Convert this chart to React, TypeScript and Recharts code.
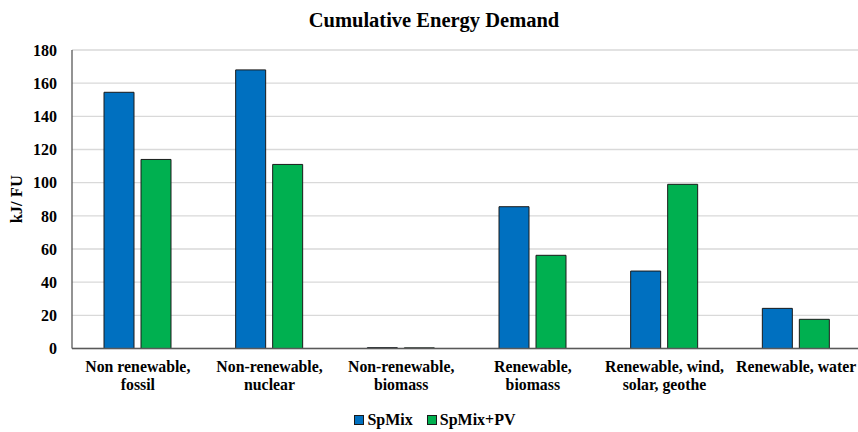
import React from 'react';
import { BarChart, Bar, XAxis, YAxis, CartesianGrid, Label } from 'recharts';

const categories = [
  'Non renewable,\nfossil',
  'Non-renewable,\nnuclear',
  'Non-renewable,\nbiomass',
  'Renewable,\nbiomass',
  'Renewable, wind,\nsolar, geothe',
  'Renewable, water',
];
const spMix = [154.5, 168, 0.5, 85.5, 46.7, 24.2];
const spMixPV = [114, 111, 0.4, 56.2, 99, 17.6];
const seriesNames = ['SpMix', 'SpMix+PV'];
const seriesColors = ['#0070C0', '#00B050'];
const yTicks = [0, 20, 40, 60, 80, 100, 120, 140, 160, 180];

const data = categories.map((c, i) => ({ name: c, a: spMix[i], b: spMixPV[i] }));

const FONT = '"Liberation Serif", "Times New Roman", serif';

const CategoryTick = (props: any) => {
  const { x, y, payload } = props;
  const lines = String(payload.value).split('\n');
  return (
    <g transform={`translate(${x},${y})`}>
      {lines.map((l, i) => (
        <text
          key={i}
          x={0}
          y={15 + i * 18}
          textAnchor="middle"
          fontFamily={FONT}
          fontWeight="bold"
          fontSize={15.8}
          fill="#000"
        >
          {l}
        </text>
      ))}
    </g>
  );
};

const YTitle = (props: any) => {
  const { viewBox } = props;
  const cy = viewBox.y + viewBox.height / 2;
  return (
    <text
      x={0}
      y={0}
      transform={`translate(22,${cy}) rotate(-90)`}
      textAnchor="middle"
      fontFamily={FONT}
      fontWeight="bold"
      fontSize={16.5}
      fill="#000"
    >
      kJ/ FU
    </text>
  );
};

export default function App() {
  return (
    <div
      style={{
        position: 'absolute',
        left: 0,
        top: 0,
        width: 858,
        height: 432,
        overflow: 'hidden',
        background: '#fff',
        fontFamily: FONT,
      }}
    >
      <div
        style={{
          position: 'absolute',
          left: 0,
          width: 868,
          top: 7,
          textAlign: 'center',
          fontWeight: 'bold',
          fontSize: 20.5,
          lineHeight: '26px',
          color: '#000',
        }}
      >
        Cumulative Energy Demand
      </div>
      <BarChart
        width={862}
        height={432}
        data={data}
        margin={{ top: 50, right: 0, left: 0, bottom: 0 }}
        barSize={30}
        barGap={7}
      >
        <CartesianGrid vertical={false} stroke="#d9d9d9" strokeWidth={1.3} />
        <XAxis
          dataKey="name"
          height={83.5}
          interval={0}
          tick={<CategoryTick />}
          tickLine={false}
          axisLine={{ stroke: '#595959', strokeWidth: 1.5 }}
        />
        <YAxis
          width={72}
          domain={[0, 180]}
          ticks={yTicks}
          interval={0}
          tickSize={5}
          tickMargin={10}
          tickLine={false}
          axisLine={{ stroke: '#595959', strokeWidth: 1.3 }}
          tick={{ fontFamily: FONT, fontWeight: 'bold', fontSize: 16, fill: '#000' }}
        >
          <Label content={<YTitle />} />
        </YAxis>
        <Bar dataKey="a" name={seriesNames[0]} fill={seriesColors[0]} stroke="#1a1a1a" strokeWidth={1} isAnimationActive={false} />
        <Bar dataKey="b" name={seriesNames[1]} fill={seriesColors[1]} stroke="#1a1a1a" strokeWidth={1} isAnimationActive={false} />
      </BarChart>
      <div
        style={{
          position: 'absolute',
          left: 0,
          width: 858,
          top: 411,
          display: 'flex',
          justifyContent: 'center',
          alignItems: 'center',
          gap: 14,
          paddingLeft: 12,
          boxSizing: 'border-box',
        }}
      >
        {seriesNames.map((n, i) => (
          <div key={n} style={{ display: 'flex', alignItems: 'center' }}>
            <span
              style={{
                display: 'inline-block',
                width: 8,
                height: 8,
                background: seriesColors[i],
                border: '1px solid #1a1a1a',
                marginRight: 3,
              }}
            />
            <span style={{ fontWeight: 'bold', fontSize: 16, lineHeight: '18px' }}>{n}</span>
          </div>
        ))}
      </div>
    </div>
  );
}
